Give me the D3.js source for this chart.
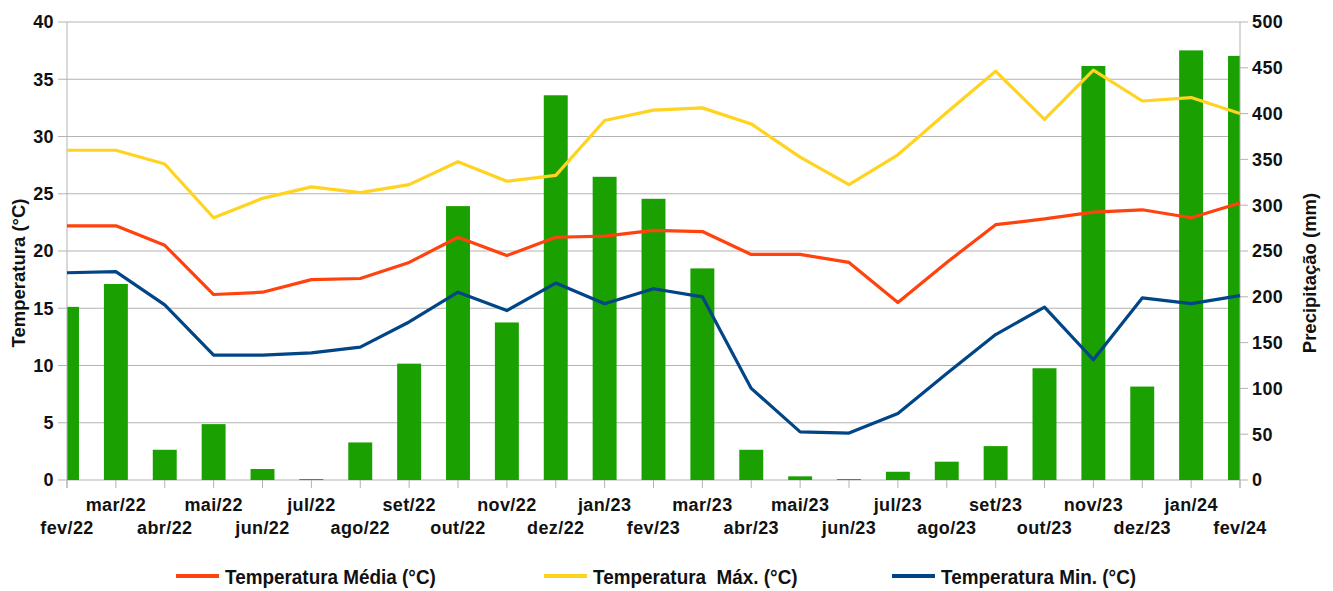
<!DOCTYPE html>
<html>
<head>
<meta charset="utf-8">
<script src="https://cdn.jsdelivr.net/npm/d3@7"></script>
<style>
  body { margin: 0; background: #fff; }
  text { font-family: "Liberation Sans", Arial, sans-serif; fill: #111; }
  .tick-lbl { font-weight: bold; font-size: 18px; letter-spacing: 0.4px; }
  .legend text { font-weight: bold; font-size: 21px; }
</style>
</head>
<body>
<div id="chart"></div>
<script>
// months
const months = ['fev/22','mar/22','abr/22','mai/22','jun/22','jul/22','ago/22','set/22','out/22','nov/22','dez/22','jan/23',
  'fev/23','mar/23','abr/23','mai/23','jun/23','jul/23','ago/23','set/23','out/23','nov/23','dez/23','jan/24','fev/24'];

const tempMax = [28.8, 28.8, 27.6, 22.9, 24.6, 25.6, 25.1, 25.8, 27.8, 26.1, 26.6, 31.4,
  32.3, 32.5, 31.1, 28.2, 25.8, 28.4, 32.1, 35.7, 31.5, 35.8, 33.1, 33.4, 32.0];
const tempMed = [22.2, 22.2, 20.5, 16.2, 16.4, 17.5, 17.6, 19.0, 21.2, 19.6, 21.2, 21.3,
  21.8, 21.7, 19.7, 19.7, 19.0, 15.5, 19.0, 22.3, 22.8, 23.4, 23.6, 22.9, 24.2];
const tempMin = [18.1, 18.2, 15.3, 10.9, 10.9, 11.1, 11.6, 13.8, 16.4, 14.8, 17.2, 15.4,
  16.7, 16.0, 8.0, 4.2, 4.1, 5.8, 9.3, 12.7, 15.1, 10.5, 15.9, 15.4, 16.1];
const precip = [189, 214, 33, 61, 12, 1, 41, 127, 299, 172, 420, 331,
  307, 231, 33, 4, 1, 9, 20, 37, 122, 452, 102, 469, 463];

const tempTicks = [0, 5, 10, 15, 20, 25, 30, 35, 40];
const precTicks = [0, 50, 100, 150, 200, 250, 300, 350, 400, 450, 500];

const series = [
  { name: 'Temperatura Média (°C)', values: tempMed, color: '#ff420e' },
  { name: 'Temperatura  Máx. (°C)', values: tempMax, color: '#ffd320' },
  { name: 'Temperatura Min. (°C)', values: tempMin, color: '#004586' }
];

const W = 1333, H = 591;
const margin = { top: 22, right: 93, bottom: 111, left: 67 };
const width = W - margin.left - margin.right;
const height = H - margin.top - margin.bottom;

const svg = d3.select('#chart').append('svg')
  .attr('width', W).attr('height', H);

const x = d3.scalePoint().domain(months).range([0, width]);
const step = x.step();
const yT = d3.scaleLinear().domain([0, 40]).range([height, 0]);
const yP = d3.scaleLinear().domain([0, 500]).range([height, 0]);

const g = svg.append('g').attr('transform', `translate(${margin.left},${margin.top})`);

// gridlines
g.selectAll('.grid').data(tempTicks).enter().append('line')
  .attr('x1', 0).attr('x2', width)
  .attr('y1', d => yT(d)).attr('y2', d => yT(d))
  .attr('stroke', '#b3b3b3').attr('stroke-width', 1);

// clip for bars
svg.append('clipPath').attr('id', 'plotclip').append('rect')
  .attr('x', 0).attr('y', -5).attr('width', width).attr('height', height + 5);

const barW = step * 0.49;
g.append('g').attr('clip-path', 'url(#plotclip)')
  .selectAll('rect').data(precip).enter().append('rect')
  .attr('x', (d, i) => x(months[i]) - barW / 2)
  .attr('y', d => yP(d))
  .attr('width', barW)
  .attr('height', d => height - yP(d))
  .attr('fill', '#1aa000');

// axis lines
g.append('line').attr('x1', 0).attr('x2', 0).attr('y1', 0).attr('y2', height + 8)
  .attr('stroke', '#b3b3b3');
g.append('line').attr('x1', width).attr('x2', width).attr('y1', 0).attr('y2', height + 8)
  .attr('stroke', '#b3b3b3');

// x ticks
g.selectAll('.xt').data(months).enter().append('line')
  .attr('x1', d => x(d)).attr('x2', d => x(d))
  .attr('y1', height).attr('y2', height + 8)
  .attr('stroke', '#b3b3b3');

// left ticks
g.selectAll('.lt').data(tempTicks).enter().append('line')
  .attr('x1', -9).attr('x2', 0).attr('y1', d => yT(d)).attr('y2', d => yT(d))
  .attr('stroke', '#b3b3b3');
g.selectAll('.ltl').data(tempTicks).enter().append('text')
  .attr('class', 'tick-lbl')
  .attr('x', -13).attr('y', d => yT(d)).attr('dy', '0.35em')
  .attr('text-anchor', 'end').text(d => d);

// right ticks
g.selectAll('.rt').data(precTicks).enter().append('line')
  .attr('x1', width).attr('x2', width + 8).attr('y1', d => yP(d)).attr('y2', d => yP(d))
  .attr('stroke', '#b3b3b3');
g.selectAll('.rtl').data(precTicks).enter().append('text')
  .attr('class', 'tick-lbl')
  .attr('x', width + 12).attr('y', d => yP(d)).attr('dy', '0.35em')
  .attr('text-anchor', 'start').text(d => d);

// x labels (staggered)
g.selectAll('.xl').data(months).enter().append('text')
  .attr('class', 'tick-lbl')
  .attr('x', d => x(d))
  .attr('y', (d, i) => i % 2 === 1 ? height + 31 : height + 54)
  .attr('text-anchor', 'middle').text(d => d);

// axis titles
svg.append('text')
  .attr('transform', 'translate(25,273) rotate(-90)')
  .attr('text-anchor', 'middle')
  .style('font-weight', 'bold').style('font-size', '18.5px')
  .text('Temperatura (°C)');
svg.append('text')
  .attr('transform', 'translate(1316,273) rotate(-90)')
  .attr('text-anchor', 'middle')
  .style('font-weight', 'bold').style('font-size', '18.5px')
  .text('Precipitação (mm)');

// lines
const line = d3.line().x((d, i) => x(months[i])).y(d => yT(d));
series.forEach(s => {
  g.append('path').datum(s.values)
    .attr('d', line)
    .attr('fill', 'none')
    .attr('stroke', s.color)
    .attr('stroke-width', 3.2)
    .attr('stroke-linejoin', 'round');
});

// legend
const legX = [176, 544, 892];
const leg = svg.append('g').attr('class', 'legend');
series.forEach((s, i) => {
  leg.append('line')
    .attr('x1', legX[i]).attr('x2', legX[i] + 43)
    .attr('y1', 576).attr('y2', 576)
    .attr('stroke', s.color).attr('stroke-width', 4);
  leg.append('text')
    .attr('transform', `translate(${legX[i] + 49},576) scale(0.9,1)`)
    .attr('dy', '0.36em')
    .style('white-space', 'pre')
    .text(s.name);
});
</script>
</body>
</html>
